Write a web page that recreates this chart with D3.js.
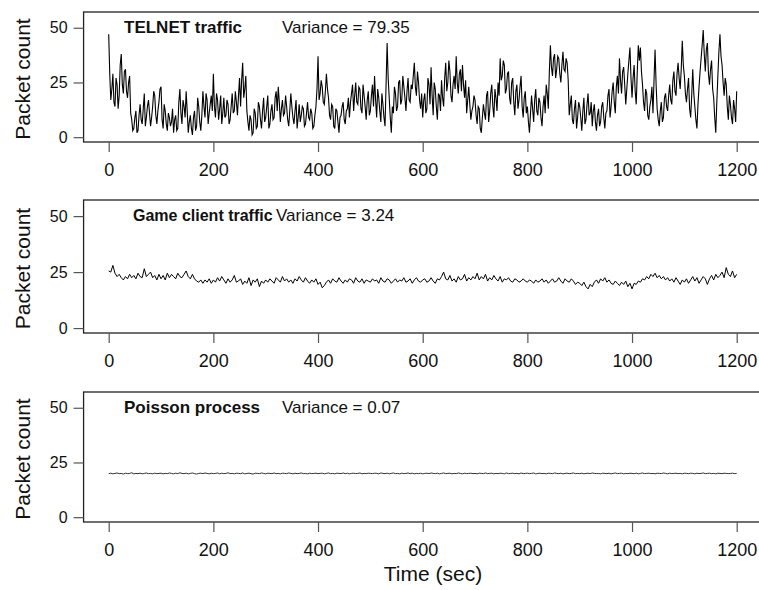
<!DOCTYPE html>
<html>
<head>
<meta charset="utf-8">
<script src="https://cdn.jsdelivr.net/npm/d3@7"></script>
<style>
  body { margin: 0; background: #fff; }
  svg { display: block; font-family: "Liberation Sans", Arial, Helvetica, sans-serif; }
</style>
</head>
<body>
<div id="container"></div>
<script>
// packet counts; telnet every 2 s, the others every 4 s, 0..1200 s
const telnet = [
  47,29,17,22,29,16,14,27,24,13,19,33,38,24,20,30,31,21,18,25,28,11,8,3,4,9,12,2,3,10,15,8,6,13,20,5,9,14,17,11,5,9,14,21,19,10,6,12,16,22,
  23,8,4,15,12,6,3,11,9,5,7,13,2,8,10,3,4,16,22,11,6,17,14,9,21,12,2,7,10,4,1,9,12,3,5,18,14,7,3,10,21,14,9,20,17,6,11,15,19,12,
  29,14,9,20,17,8,13,19,6,11,18,9,10,17,15,6,8,14,20,11,12,21,16,10,19,27,14,26,34,18,22,28,12,7,3,10,8,1,2,13,11,4,5,16,14,8,4,12,18,7,
  9,14,19,4,6,12,15,8,9,18,21,12,23,16,7,13,17,10,11,19,14,8,5,12,20,14,9,6,12,17,4,9,15,7,10,14,13,5,6,11,16,9,8,13,11,4,5,10,14,22,
  37,17,20,26,23,16,15,21,29,22,18,10,8,15,14,5,4,13,12,7,2,9,10,14,16,8,6,12,13,18,9,16,20,24,12,19,25,16,15,23,22,13,11,24,19,14,8,17,21,10,
  12,19,24,14,28,17,9,22,18,12,7,20,15,9,5,24,43,27,18,9,2,14,11,23,20,12,14,25,26,15,17,28,23,18,12,21,27,17,16,24,22,28,34,23,19,30,25,17,13,20,
  9,17,20,11,13,27,24,15,32,19,10,25,22,14,8,20,19,12,26,18,14,27,34,21,25,35,30,19,16,24,28,22,37,25,20,29,31,21,33,24,18,26,11,17,23,15,8,12,14,19,
  17,10,6,14,13,4,2,9,15,11,8,19,21,7,12,20,24,14,9,22,18,12,25,19,36,26,28,35,33,20,22,29,30,18,15,25,27,16,10,21,24,13,17,23,28,14,9,18,21,11,
  14,7,2,11,19,13,7,17,22,12,10,18,16,9,5,14,19,11,24,20,13,30,42,32,28,36,38,27,31,37,36,29,25,33,39,31,30,36,34,26,10,15,19,8,6,13,17,4,9,16,
  14,9,3,12,18,6,8,15,20,10,11,16,5,12,15,7,3,10,13,5,7,14,16,9,4,11,12,19,22,9,14,21,25,16,11,23,28,20,36,26,20,30,32,24,15,22,29,35,41,27,
  18,27,33,21,15,30,42,35,41,30,24,16,12,22,20,10,8,14,17,23,11,26,40,24,13,8,5,12,16,7,9,18,20,14,12,19,24,17,15,26,30,21,19,29,34,27,22,31,44,33,
  28,20,16,22,27,13,9,19,31,20,14,8,4,15,23,30,36,42,49,38,30,40,43,29,24,31,35,22,18,9,2,16,28,39,47,37,33,25,19,27,24,14,8,19,15,9,6,17,13,7,21
];
const game = [
  25.5,25,28,24.5,23,24,22.5,21.5,23,22,24,22.5,23.5,22,24.5,23,22.5,26.5,23,24,25,22.5,23.5,21.5,24,
  22,23.5,21.5,24.5,22.5,24,23,22,24.5,23,22.5,24,25.5,23,22,24,22,21,20.5,21.5,20,21.5,20.5,22,20,
  21.5,20.5,22.5,21,23,21.5,20,22,20.5,21.5,23.5,20.5,21,22,19.5,21,20,22.5,19,21.5,20.5,22,18.5,21,20,
  21.5,20.5,22,21,20,22.5,21.5,20.5,23,21,22,20.5,21.5,20,22,21,23,21.5,20.5,22.5,21,20,21.5,20.5,22,
  19.5,20.5,18,19,20.5,21.5,20,22,21,20.5,22.5,21,20,21.5,20.5,22,21.5,20,22.5,21,20.5,22,20,21.5,21,
  20.5,22,21,21.5,20,22.5,21,20.5,22,21.5,20,21,22,20.5,21.5,21,22.5,20.5,21,22,20,21.5,22.5,21,20.5,
  21.5,22,20.5,21,22.5,21,20,22,21.5,23,25,22,21.5,23.5,21,22,20.5,23,21.5,22,24,21,22.5,21.5,23,
  22,24.5,21.5,23,22,24,21,22.5,21.5,23.5,22,21,23,20.5,22,21.5,22.5,21,20.5,22,21.5,20.5,21,22,21,
  20.5,21.5,21,20,21.5,20.5,21,22,20.5,21.5,20,21,22,20.5,21,22.5,21,20,22,21,20.5,22,21,19.5,20.5,
  20,19,20.5,18.5,17.5,19.5,18.5,20.5,21.5,20,22,21,22.5,20.5,21.5,20,19.5,21,20,19,20.5,19.5,21,18.5,20,
  17.5,20,19.5,21,20.5,22,21.5,23,22,24,23,24.5,22.5,23.5,22,23,21.5,22.5,21,22,20.5,22.5,21,19.5,21.5,20.5,
  22,20,21.5,23,21,22.5,20,21.5,23,22,19.5,22,23.5,21.5,24,22.5,23.5,25,22.5,27,24,23,25.5,22.5,24
];
const poisson = [
  19.9,20.1,19.8,20.0,20.2,19.9,20.0,19.7,20.1,19.9,20.0,20.3,19.8,20.0,19.9,20.1,19.8,20.0,20.2,19.9,20.0,19.8,20.1,19.9,20.0,
  20.1,19.8,20.0,19.9,20.2,20.0,19.8,20.1,19.9,20.3,20.0,19.9,20.1,19.8,20.0,20.2,19.9,19.7,20.0,20.1,19.9,20.2,20.0,19.8,20.1,
  19.9,20.0,20.2,19.8,20.1,19.9,20.0,20.3,19.9,20.0,19.8,20.1,20.0,19.9,20.2,19.8,20.0,20.1,19.9,19.7,20.1,20.0,19.9,20.2,20.0,
  19.8,20.1,20.0,19.9,20.2,19.9,20.0,19.8,20.1,20.0,19.9,20.2,20.0,19.8,20.1,19.9,20.0,20.2,19.9,20.0,19.8,20.1,19.9,20.0,20.1,
  19.9,20.0,20.1,19.8,20.0,20.2,19.9,20.0,19.8,20.1,20.0,19.9,20.2,19.9,20.1,19.8,20.0,20.1,19.9,20.0,20.2,19.8,20.0,19.9,20.1,
  20.0,19.9,20.1,20.0,19.8,20.2,20.0,19.9,20.1,19.8,20.0,20.2,19.9,20.0,19.8,20.1,19.9,20.0,20.2,19.9,20.1,19.8,20.0,19.9,20.1,
  19.8,20.0,20.1,19.9,20.2,20.0,19.9,20.1,19.8,20.0,20.2,19.9,20.0,20.1,19.8,20.0,19.9,20.2,20.0,19.8,20.1,19.9,20.0,20.1,19.9,
  20.0,19.8,20.1,20.0,19.9,20.2,19.9,20.0,20.1,19.8,20.0,19.9,20.1,20.0,19.8,20.2,19.9,20.0,20.1,19.9,20.0,19.8,20.2,19.9,20.0,
  20.1,19.9,20.0,20.2,19.8,20.0,20.1,19.9,20.0,19.8,20.1,20.0,19.9,20.2,20.0,19.9,20.1,19.8,20.0,20.1,19.9,20.0,20.2,19.9,20.0,
  19.9,20.1,19.8,20.0,20.1,19.9,20.2,20.0,19.9,20.0,19.8,20.1,20.0,19.9,20.1,19.8,20.0,20.2,19.9,20.0,20.1,19.8,20.0,19.9,20.1,
  20.0,19.9,20.1,19.8,20.0,20.2,19.9,20.0,20.1,19.9,20.0,19.8,20.1,20.0,19.9,20.2,20.0,19.8,20.1,19.9,20.0,20.1,19.9,20.0,19.8,20.1,
  20.0,19.9,20.1,20.0,19.8,20.1,19.9,20.0,20.2,19.9,20.0,20.1,19.9,20.0,19.8,20.1,20.0,19.9,20.1,20.0,19.9,20.0,20.1,19.9,20.0
];
const steps = [2, 4, 4];
const titles = ['TELNET traffic', 'Game client traffic', 'Poisson process'];
const variances = ['Variance = 79.35', 'Variance = 3.24', 'Variance = 0.07'];
const xTicks = [0, 200, 400, 600, 800, 1000, 1200];
const yTicks = [0, 25, 50];

const w = 759;
const h = 590;
// panel boxes: top, height, title x / size, variance x, line width
const panels = [
  {top: 12, height: 130, tx: 124, ts: 17, vx: 282, lw: 1.1},
  {top: 200, height: 133, tx: 133, ts: 16, vx: 276, lw: 1},
  {top: 392, height: 130, tx: 124, ts: 17, vx: 282, lw: 0.8}
];
const series = [telnet, game, poisson];

const svg = d3.select('#container')
  .append('svg')
  .attr('width', w)
  .attr('height', h);

const xScale = d3.scaleLinear()
  .domain([0, 1200])
  .range([108.7, 736.7]);
const boxLeft = xScale(-48);
const boxRight = xScale(1248);

panels.forEach((p, i) => {
  const g = svg.append('g');
  const yScale = d3.scaleLinear()
    .domain([-2.2, 57.2])
    .range([p.top + p.height, p.top]);

  const line = d3.line()
    .x((d, j) => xScale(j * steps[i]))
    .y(d => yScale(d));

  g.append('path')
    .datum(series[i])
    .attr('d', line)
    .attr('fill', 'none')
    .attr('stroke', '#000')
    .attr('stroke-width', p.lw);

  g.append('rect')
    .attr('x', boxLeft)
    .attr('y', p.top)
    .attr('width', boxRight - boxLeft)
    .attr('height', p.height)
    .attr('fill', 'none')
    .attr('stroke', '#222')
    .attr('stroke-width', 1.3);

  const xAxis = g.append('g')
    .attr('transform', `translate(0,${p.top + p.height})`)
    .call(d3.axisBottom(xScale).tickValues(xTicks).tickSize(10).tickPadding(11).tickFormat(d => String(d)));
  xAxis.select('.domain').remove();
  xAxis.selectAll('line').attr('stroke', '#555').attr('stroke-width', 1.2);
  xAxis.selectAll('text').attr('fill', '#111').style('font-size', '18px');

  const yAxis = g.append('g')
    .attr('transform', `translate(${boxLeft},0)`)
    .call(d3.axisLeft(yScale).tickValues(yTicks).tickSize(10).tickPadding(6));
  yAxis.select('.domain').remove();
  yAxis.selectAll('line').attr('stroke', '#555').attr('stroke-width', 1.2);
  yAxis.selectAll('text').attr('fill', '#111').style('font-size', '16px');

  g.append('text')
    .text(titles[i])
    .attr('x', p.tx)
    .attr('y', p.top + 21)
    .attr('fill', '#111')
    .style('font-weight', 'bold')
    .style('font-size', p.ts + 'px');
  g.append('text')
    .text(variances[i])
    .attr('x', p.vx)
    .attr('y', p.top + 21)
    .attr('fill', '#111')
    .style('font-size', '17px');

  const cy = p.top + p.height / 2 + 2;
  g.append('text')
    .text('Packet count')
    .attr('transform', `translate(30,${cy}) rotate(-90)`)
    .attr('text-anchor', 'middle')
    .attr('fill', '#111')
    .style('font-size', '21px');
});

svg.append('text')
  .text('Time (sec)')
  .attr('x', 433)
  .attr('y', 581)
  .attr('text-anchor', 'middle')
  .attr('fill', '#111')
  .style('font-size', '21px');
</script>
</body>
</html>
